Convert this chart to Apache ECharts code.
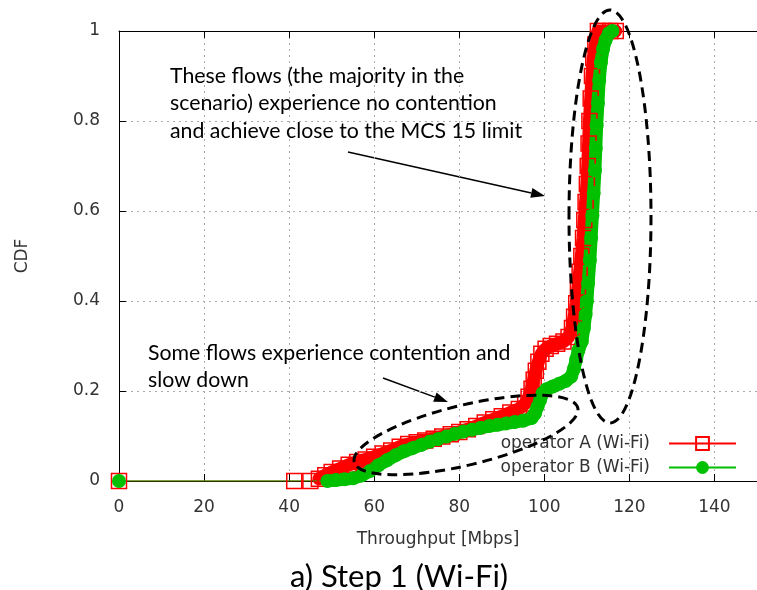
<!DOCTYPE html>
<html>
<head>
<meta charset="utf-8">
<script src="https://cdn.jsdelivr.net/npm/echarts@6/dist/echarts.min.js"></script>
<style>
  html, body { margin: 0; padding: 0; background: #fff; }
  #main { width: 757px; height: 590px; }
</style>
</head>
<body>
<div id="main"></div>
<script>
// operator A (Wi-Fi)
var aThroughput = [0, 41.2, 45, 47, 48.5, 50, 52, 54, 56, 58, 60, 62, 64, 66, 68, 70, 72, 74, 76, 78, 80, 82, 84, 86, 88, 90, 92, 94, 95.5, 96.3, 97, 97.5, 98, 98.6, 99.3, 100.3, 101.5, 103, 104.5, 105.7, 106.5, 107, 107.5, 107.9, 108.3, 108.7, 109.1, 109.4, 109.7, 110, 110.2, 110.4, 110.6, 110.9, 111.2, 111.5, 112, 112.6, 114, 115.5, 116.8];
var aCdf = [0, 0, 0, 0.005, 0.013, 0.02, 0.028, 0.036, 0.042, 0.048, 0.054, 0.061, 0.068, 0.076, 0.082, 0.086, 0.09, 0.094, 0.099, 0.104, 0.109, 0.115, 0.122, 0.13, 0.137, 0.144, 0.152, 0.16, 0.172, 0.187, 0.205, 0.225, 0.245, 0.265, 0.283, 0.294, 0.3, 0.305, 0.31, 0.32, 0.34, 0.365, 0.395, 0.43, 0.465, 0.5, 0.54, 0.58, 0.62, 0.66, 0.7, 0.75, 0.8, 0.85, 0.9, 0.94, 0.97, 1, 1, 1, 1];

// operator B (Wi-Fi)
var bThroughput = [0, 49, 51, 53, 55, 57, 59, 61, 63, 65, 67, 69, 71, 73, 75, 77, 79, 81, 83, 85, 87, 89, 91, 93, 95, 97, 97.8, 98.4, 99, 99.6, 100.5, 102, 103.5, 105, 106.3, 107, 107.5, 108, 108.8, 109.3, 109.7, 110, 110.3, 110.7, 111, 111.3, 111.6, 111.9, 112.1, 112.3, 112.6, 112.9, 113.3, 113.8, 114.4, 115.2, 116];
var bCdf = [0, 0, 0.002, 0.004, 0.006, 0.012, 0.022, 0.035, 0.046, 0.057, 0.066, 0.073, 0.08, 0.087, 0.093, 0.099, 0.105, 0.11, 0.114, 0.118, 0.122, 0.125, 0.128, 0.131, 0.134, 0.14, 0.15, 0.165, 0.18, 0.195, 0.204, 0.21, 0.216, 0.222, 0.232, 0.25, 0.27, 0.29, 0.31, 0.34, 0.37, 0.4, 0.44, 0.49, 0.54, 0.59, 0.64, 0.69, 0.74, 0.79, 0.84, 0.89, 0.93, 0.96, 0.98, 0.995, 1];

var xTicks = [0, 20, 40, 60, 80, 100, 120, 140];
var yTicks = [0, 0.2, 0.4, 0.6, 0.8, 1];

function zip(xs, ys) {
    return xs.map(function (x, i) { return [x, ys[i]]; });
}

// arrow = line + filled head
function arrow(x1, y1, x2, y2) {
    var a = Math.atan2(y2 - y1, x2 - x1), len = 14, w = 5;
    var bx = x2 - len * Math.cos(a), by = y2 - len * Math.sin(a);
    return {
        type: 'group', z: 100,
        children: [
            { type: 'line', shape: { x1: x1, y1: y1, x2: bx, y2: by }, style: { stroke: '#000', lineWidth: 1.5 } },
            { type: 'polygon', shape: { points: [[x2, y2], [bx - w * Math.sin(a), by + w * Math.cos(a)], [bx + w * Math.sin(a), by - w * Math.cos(a)]] }, style: { fill: '#000' } }
        ]
    };
}

var axisFont = { fontFamily: 'DejaVu Sans', fontSize: 17, color: '#333' };
var noteFont = '21.3px Lato';
var red = '#ff0000', green = '#00c000';

var chart = echarts.init(document.getElementById('main'));
chart.setOption({
    animation: false,
    backgroundColor: '#fff',
    grid: { left: 119, top: 31, bottom: 109, right: -7 },
    xAxis: [{
        type: 'value', min: 0, max: 150, interval: 20,
        name: 'Throughput [Mbps]', nameLocation: 'middle', nameGap: 50,
        nameTextStyle: axisFont,
        axisLine: { lineStyle: { color: '#000', width: 1 } },
        axisTick: { inside: true, length: 7, lineStyle: { color: '#000' } },
        axisLabel: Object.assign({ margin: 18, showMaxLabel: false,
            formatter: function (v) { return xTicks.indexOf(v) >= 0 ? String(v) : ''; } }, axisFont),
        splitLine: { show: true, lineStyle: { color: '#aaa', type: [2, 4] } }
    }, {
        type: 'value', position: 'top', min: 0, max: 150, interval: 20,
        axisLine: { onZero: false, lineStyle: { color: '#000', width: 1 } },
        axisTick: { inside: true, length: 7, lineStyle: { color: '#000' } },
        axisLabel: { show: false },
        splitLine: { show: false }
    }],
    yAxis: {
        type: 'value', min: 0, max: 1, interval: 0.2,
        name: 'CDF', nameLocation: 'middle', nameGap: 88, nameRotate: 90,
        nameTextStyle: axisFont,
        axisLine: { show: true, lineStyle: { color: '#000', width: 1 } },
        axisTick: { show: true, inside: true, length: 7, lineStyle: { color: '#000' } },
        axisLabel: Object.assign({ margin: 19,
            formatter: function (v) { return yTicks.indexOf(v) >= 0 ? String(v) : ''; } }, axisFont),
        splitLine: { show: true, lineStyle: { color: '#aaa', type: [2, 4] } }
    },
    legend: {
        orient: 'vertical', right: 15, top: 430, align: 'right',
        itemWidth: 67, itemHeight: 16, itemGap: 7,
        textStyle: Object.assign({ padding: [0, 14, 0, 0] }, axisFont),
        data: ['operator A (Wi-Fi)', 'operator B (Wi-Fi)']
    },
    series: [{
        // dense band of overlapping markers
        name: 'A band', type: 'line', data: zip(aThroughput, aCdf).slice(3),
        symbol: 'none', silent: true,
        lineStyle: { color: red, width: 13, join: 'round', cap: 'round' }
    }, {
        name: 'operator A (Wi-Fi)', type: 'line',
        data: zip(aThroughput, aCdf),
        symbol: 'rect', symbolSize: 15,
        itemStyle: { color: 'rgba(255,255,255,0)', borderColor: red, borderWidth: 1.5 },
        lineStyle: { color: red, width: 1 }
    }, {
        name: 'B band', type: 'line', data: zip(bThroughput, bCdf).slice(1),
        symbol: 'none', silent: true,
        lineStyle: { color: green, width: 13, join: 'round', cap: 'round' }
    }, {
        name: 'operator B (Wi-Fi)', type: 'line',
        data: zip(bThroughput, bCdf),
        symbol: 'circle', symbolSize: 14,
        itemStyle: { color: green, borderWidth: 0 },
        lineStyle: { color: green, width: 1 }
    }],
    graphic: [
        { type: 'ellipse', z: 100, x: 610, y: 216.5, shape: { cx: 0, cy: 0, rx: 41, ry: 206.5 },
          style: { fill: 'none', stroke: '#000', lineWidth: 3, lineDash: [10, 6] } },
        { type: 'ellipse', z: 100, x: 466, y: 435, rotation: 13.6 * Math.PI / 180, shape: { cx: 0, cy: 0, rx: 115, ry: 30 },
          style: { fill: 'none', stroke: '#000', lineWidth: 3, lineDash: [10, 6] } },
        arrow(348, 152, 545, 196),
        arrow(383, 378, 448, 402),
        { type: 'text', z: 100, x: 170, y: 62,
          style: { text: 'These flows (the majority in the\nscenario) experience no contention\nand achieve close to the MCS 15 limit',
                   font: noteFont, fill: '#000', lineHeight: 27.5, align: 'left', verticalAlign: 'top' } },
        { type: 'text', z: 100, x: 148, y: 339,
          style: { text: 'Some flows experience contention and\nslow down',
                   font: noteFont, fill: '#000', lineHeight: 27.5, align: 'left', verticalAlign: 'top' } },
        { type: 'text', z: 100, x: 399, y: 577,
          style: { text: 'a) Step 1 (Wi-Fi)', font: '31px Lato', fill: '#000', align: 'center', verticalAlign: 'middle' } }
    ]
});
</script>
</body>
</html>
